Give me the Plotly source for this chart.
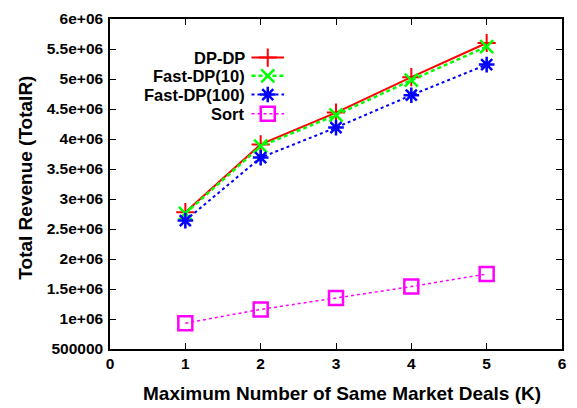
import plotly.graph_objects as go

# Data: total revenue vs. maximum number of same-market deals (K)
k_values = [1, 2, 3, 4, 5]
series_names = ["DP-DP", "Fast-DP(10)", "Fast-DP(100)", "Sort"]
dp_dp = [2.78e6, 3.91e6, 4.44e6, 5.03e6, 5.60e6]
fast_dp_10 = [2.76e6, 3.88e6, 4.40e6, 4.98e6, 5.54e6]
fast_dp_100 = [2.64e6, 3.69e6, 4.19e6, 4.73e6, 5.24e6]
sort_vals = [0.93e6, 1.16e6, 1.35e6, 1.54e6, 1.75e6]

x_tick_vals = [0, 1, 2, 3, 4, 5, 6]
y_tick_vals = [500000, 1e6, 1.5e6, 2e6, 2.5e6, 3e6, 3.5e6, 4e6, 4.5e6, 5e6, 5.5e6, 6e6]
y_tick_text = ["500000", "1e+06", "1.5e+06", "2e+06", "2.5e+06", "3e+06",
               "3.5e+06", "4e+06", "4.5e+06", "5e+06", "5.5e+06", "6e+06"]

FONT = "Liberation Sans, Arial, sans-serif"

styles = [
    dict(color="#ff0000", dash="solid", width=2, symbol="cross-thin-open", msize=13, mwidth=2),
    dict(color="#00ff00", dash="4px,3px", width=2.5, symbol="x-thin-open", msize=13, mwidth=2.5),
    dict(color="#0000ff", dash="dot", width=2, symbol="asterisk-open", msize=13, mwidth=2.5),
    dict(color="#ff00ff", dash="dot", width=1.5, symbol="square-open", msize=14, mwidth=2.5),
]
values = [dp_dp, fast_dp_10, fast_dp_100, sort_vals]

fig = go.Figure()
for name, ys, st in zip(series_names, values, styles):
    fig.add_trace(go.Scatter(
        x=k_values, y=ys, name=name, mode="lines+markers",
        line=dict(color=st["color"], dash=st["dash"], width=st["width"]),
        marker=dict(symbol=st["symbol"], size=st["msize"], color=st["color"],
                    line=dict(color=st["color"], width=st["mwidth"])),
        showlegend=False,
    ))

# Hand-built key: right-aligned labels with line samples to their right
key_y = [0.883, 0.828, 0.771, 0.713]
for name, ky, st in zip(series_names, key_y, styles):
    fig.add_trace(go.Scatter(
        x=[0.313, 0.385], y=[ky, ky], mode="lines", xaxis="x2", yaxis="y2",
        line=dict(color=st["color"], dash=st["dash"], width=st["width"]),
        showlegend=False, hoverinfo="skip",
    ))
    fig.add_trace(go.Scatter(
        x=[0.349], y=[ky], mode="markers", xaxis="x2", yaxis="y2",
        marker=dict(symbol=st["symbol"], size=st["msize"], color=st["color"],
                    line=dict(color=st["color"], width=st["mwidth"])),
        showlegend=False, hoverinfo="skip",
    ))
    fig.add_annotation(
        x=0.304, y=ky, xref="paper", yref="paper", text=name, showarrow=False,
        xanchor="right", yanchor="middle",
        font=dict(family=FONT, size=16.5, color="black", weight="bold"),
    )

axis_common = dict(
    showline=True, linecolor="black", linewidth=1.5, mirror="allticks",
    ticks="inside", ticklen=6, tickwidth=1, tickcolor="black",
    showgrid=False, zeroline=False,
    tickfont=dict(family=FONT, size=15.5, color="black", weight="bold"),
)

fig.update_layout(
    width=577, height=408,
    margin=dict(l=110, r=10, t=13, b=59),
    paper_bgcolor="white", plot_bgcolor="white",
    xaxis=dict(range=[0, 6], tickvals=x_tick_vals, **axis_common),
    yaxis=dict(range=[500000, 6e6], tickvals=y_tick_vals, ticktext=y_tick_text,
               ticklabelstandoff=2, **axis_common),
    xaxis2=dict(range=[0, 1], overlaying="x", visible=False, fixedrange=True),
    yaxis2=dict(range=[0, 1], overlaying="y", visible=False, fixedrange=True),
)

# Axis titles
fig.add_annotation(
    x=0.5125, y=-0.134, xref="paper", yref="paper", xanchor="center", yanchor="middle",
    text="Maximum Number of Same Market Deals (K)", showarrow=False,
    font=dict(family=FONT, size=19, color="black", weight="bold"),
)
fig.add_annotation(
    x=-0.189, y=0.518, xref="paper", yref="paper", xanchor="center", yanchor="middle",
    text="Total Revenue (TotalR)", showarrow=False, textangle=-90,
    font=dict(family=FONT, size=19, color="black", weight="bold"),
)

fig.write_html("out.html")
